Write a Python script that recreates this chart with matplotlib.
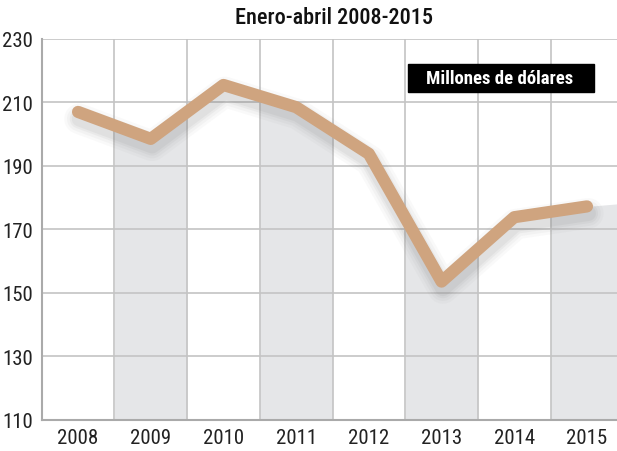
import matplotlib
matplotlib.use("Agg")
import matplotlib.pyplot as plt
import matplotlib.patheffects as pe
import numpy as np
from matplotlib import font_manager

years = ["2008", "2009", "2010", "2011", "2012", "2013", "2014", "2015"]
values = [207, 198.5, 215.5, 208.5, 193.8, 153.5, 173.8, 177.2]
edge_value = 178  # level the shaded area reaches at the right border
yticks = [110, 130, 150, 170, 190, 210, 230]

names = set(f.name for f in font_manager.fontManager.ttflist)
fam = "DejaVu Sans"
for cand in ["Roboto Condensed", "Liberation Sans Narrow", "Open Sans Condensed", "Roboto"]:
    if cand in names:
        fam = cand
        break
plt.rcParams['font.family'] = [fam, 'DejaVu Sans']

line_col = "#cfa47f"
band_col = "#e5e6e8"
grid_col = "#c4c4c4"

fig = plt.figure(figsize=(6.17, 4.52), dpi=100)
ax = fig.add_axes([41.7 / 617, 1 - 420.5 / 452, 1 - 41.7 / 617, (420.5 - 40) / 452])

n = len(years)
xc = np.arange(n)
right = (617 - 41.7) / 72.7 - 0.5
ax.set_xlim(-0.5, right)
ax.set_ylim(110, 230)

# shaded area under the line, only in every other column
xe = np.append(xc, right)
ye = np.append(values, edge_value)
for i in range(1, n, 2):
    x0, x1 = i - 0.5, min(i + 0.5, right)
    xs = np.linspace(x0, x1, 60)
    ax.fill_between(xs, np.interp(xs, xe, ye), 110, color=band_col, lw=0, zorder=1)

# grid
for i in range(n + 1):
    ax.axvline(i - 0.5, color=grid_col, lw=1.2, zorder=2)
for v in yticks:
    ax.axhline(v, color=grid_col, lw=1.2, zorder=2)

shadow = []
for lw, a in [(22, 0.03), (18, 0.04), (14, 0.05), (11, 0.06)]:
    shadow.append(pe.SimpleLineShadow(offset=(1, -5), shadow_color="#555555", alpha=a, linewidth=lw))
shadow.append(pe.Normal())
ax.plot(xc, values, color=line_col, lw=8.8, solid_capstyle="round",
        solid_joinstyle="round", zorder=4, path_effects=shadow)

ax.set_xticks(xc)
ax.set_xticklabels(years)
ax.set_yticks(yticks)
ax.tick_params(length=0, labelsize=15, colors="#222222")
ax.tick_params(axis="x", pad=6)
ax.tick_params(axis="y", pad=6)
for s in ["top", "right"]:
    ax.spines[s].set_visible(False)
for s in ["left", "bottom"]:
    ax.spines[s].set_color("#aaaaaa")
    ax.spines[s].set_linewidth(1.5)
    ax.spines[s].set_zorder(3)

fig.text(334 / 617, 1 - 18 / 452, "Enero-abril 2008-2015", ha="center", va="center",
         fontsize=16, fontweight="medium", color="#111111")

fig.text(500 / 617, 1 - 79 / 452, "Millones de dólares", ha="center", va="center",
         fontsize=13.5, fontweight="bold", color="white", zorder=10)
fig.patches.append(plt.Rectangle((408 / 617, 1 - 93 / 452), 186 / 617, 28 / 452,
                                 transform=fig.transFigure, color="black", zorder=9))

fig.savefig("out.png", dpi=100)
